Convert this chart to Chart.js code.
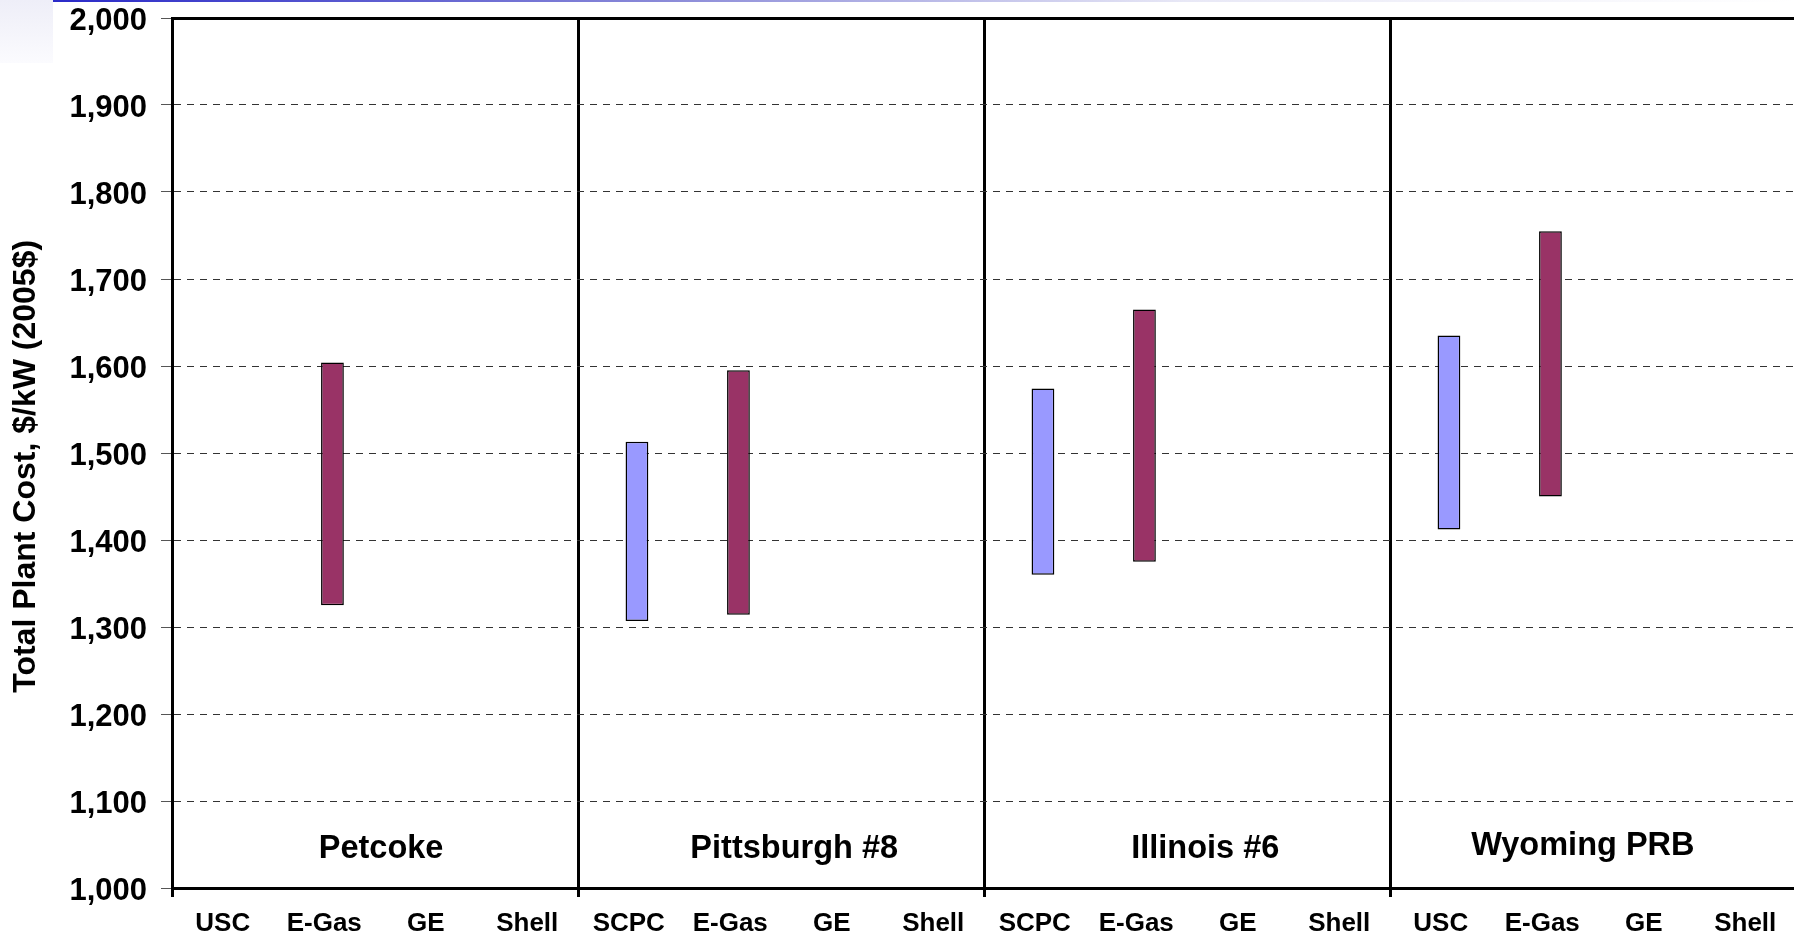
<!DOCTYPE html>
<html>
<head>
<meta charset="utf-8">
<title>Total Plant Cost by Coal Type and Technology</title>
<script src="https://cdn.jsdelivr.net/npm/chart.js@4"></script>
<style>
  html, body { margin: 0; padding: 0; background: #ffffff; }
  #wrap { position: relative; width: 1794px; height: 938px; overflow: hidden; }
  /* slide decoration: tinted corner and rule along the top edge */
  #corner { position: absolute; left: 0; top: 0; width: 53px; height: 63px;
            background: linear-gradient(to bottom, #eeeef8, #fbfbfe); }
  #rule { position: absolute; left: 53px; top: 0; width: 1741px; height: 2px;
          background: linear-gradient(to right, #2a2ac8 0%, #8a8ad8 35%, #e8e8f6 65%, #ffffff 100%); }
  /* the plot runs slightly past the frame on the right */
  #chart { position: absolute; left: 0; top: 0; }
</style>
</head>
<body>
<div id="wrap">
  <div id="corner"></div>
  <div id="rule"></div>
  <canvas id="chart" width="1796" height="938"></canvas>
</div>
<script>
// Coal types, each spanning four technology columns
const fuels = ['Petcoke', 'Pittsburgh #8', 'Illinois #6', 'Wyoming PRB'];
// Where each coal-type caption sits (column position, $/kW baseline)
const fuelLabelX = [1.56, 5.63, 9.68, 13.40];
const fuelLabelY = [1034.5, 1034.5, 1034, 1037.5];

const technologies = [
  'USC', 'E-Gas', 'GE', 'Shell',
  'SCPC', 'E-Gas', 'GE', 'Shell',
  'SCPC', 'E-Gas', 'GE', 'Shell',
  'USC', 'E-Gas', 'GE', 'Shell'
];

// Pulverized coal plants (USC / SCPC): cost range, $/kW (2005$)
const pcLow  = [null, null, null, null, 1307, null, null, null, 1360, null, null, null, 1412, null, null, null];
const pcHigh = [null, null, null, null, 1513, null, null, null, 1574, null, null, null, 1635, null, null, null];

// IGCC plants (E-Gas): cost range, $/kW (2005$)
const igccLow  = [null, 1325, null, null, null, 1314, null, null, null, 1375, null, null, null, 1450, null, null];
const igccHigh = [null, 1604, null, null, null, 1595, null, null, null, 1665, null, null, null, 1755, null, null];

// Value axis ticks
const yTickValues = [1000, 1100, 1200, 1300, 1400, 1500, 1600, 1700, 1800, 1900, 2000];
// trailing spaces nudge the rotated title slightly down the axis
const yTitle = 'Total Plant Cost, $/kW (2005$)   ';

const FONT = '"Liberation Sans", Arial, Helvetica, sans-serif';

const ranges = (lo, hi) => lo.map((v, i) => (v === null ? null : [v, hi[i]]));

const fuelCaptions = {
  id: 'fuelCaptions',
  afterDatasetsDraw(chart) {
    const { ctx, scales: { x, y } } = chart;
    ctx.save();
    ctx.font = 'bold 32.5px ' + FONT;
    ctx.fillStyle = '#000000';
    ctx.textAlign = 'center';
    ctx.textBaseline = 'alphabetic';
    fuels.forEach((name, i) => {
      ctx.fillText(name, x.getPixelForValue(fuelLabelX[i]), y.getPixelForValue(fuelLabelY[i]));
    });
    ctx.restore();
  }
};

const groupEdge = (c) => (c.index !== undefined && c.index % 4 === 0 ? '#000000' : 'rgba(0,0,0,0)');

new Chart(document.getElementById('chart'), {
  type: 'bar',
  data: {
    labels: technologies,
    datasets: [
      {
        // empty slot that sets the range bars slightly right of each column centre
        label: 'spacer',
        data: technologies.map(() => null),
        stack: 'spacer'
      },
      {
        label: 'Pulverized coal',
        data: ranges(pcLow, pcHigh),
        backgroundColor: '#9999ff',
        borderColor: '#000000',
        borderWidth: 1.5,
        borderSkipped: false,
        stack: 'plant'
      },
      {
        label: 'IGCC',
        data: ranges(igccLow, igccHigh),
        backgroundColor: '#993366',
        borderColor: '#000000',
        borderWidth: 1.5,
        borderSkipped: false,
        stack: 'plant'
      }
    ]
  },
  options: {
    responsive: false,
    animation: false,
    categoryPercentage: 0.323,
    barPercentage: 1.39,
    layout: { padding: { top: 18, right: 0, bottom: 0, left: 0 } },
    plugins: {
      legend: { display: false },
      tooltip: { enabled: false }
    },
    scales: {
      x: {
        position: 'bottom',
        afterFit: (s) => { s.height = 50; s.paddingLeft = 0; s.paddingRight = 0; },
        grid: {
          offset: true,
          color: groupEdge,
          tickColor: groupEdge,
          lineWidth: 3,
          tickWidth: 3,
          tickLength: 9
        },
        border: { display: true, color: '#000000', width: 3 },
        ticks: {
          autoSkip: false,
          maxRotation: 0,
          padding: 11,
          color: '#000000',
          font: { family: FONT, size: 26, weight: 'bold' }
        }
      },
      xTop: {
        type: 'linear',
        position: 'top',
        afterFit: (s) => { s.height = 0; s.paddingLeft = 0; s.paddingRight = 0; },
        grid: { display: false, drawTicks: false },
        ticks: { display: false },
        border: { display: true, color: '#000000', width: 3 }
      },
      y: {
        stacked: false,
        min: yTickValues[0],
        max: yTickValues[yTickValues.length - 1],
        afterFit: (s) => { s.width = 172; s.paddingTop = 0; s.paddingBottom = 0; },
        afterBuildTicks: (s) => { s.ticks = yTickValues.map((v) => ({ value: v })); },
        grid: {
          color: '#333333',
          lineWidth: 1,
          tickLength: 11,
          tickColor: '#555555',
          tickWidth: 1,
          tickBorderDash: []
        },
        border: { display: true, color: '#000000', width: 3, dash: [7, 6] },
        ticks: {
          padding: 14,
          labelOffset: 3,
          color: '#000000',
          font: { family: FONT, size: 31, weight: 'bold' },
          callback: (v) => Number(v).toLocaleString('en-US')
        },
        title: {
          display: true,
          text: yTitle,
          color: '#000000',
          font: { family: FONT, size: 32, weight: 'bold', lineHeight: 1 },
          padding: { top: 10, bottom: 0 }
        }
      }
    }
  },
  plugins: [fuelCaptions]
});
</script>
</body>
</html>
